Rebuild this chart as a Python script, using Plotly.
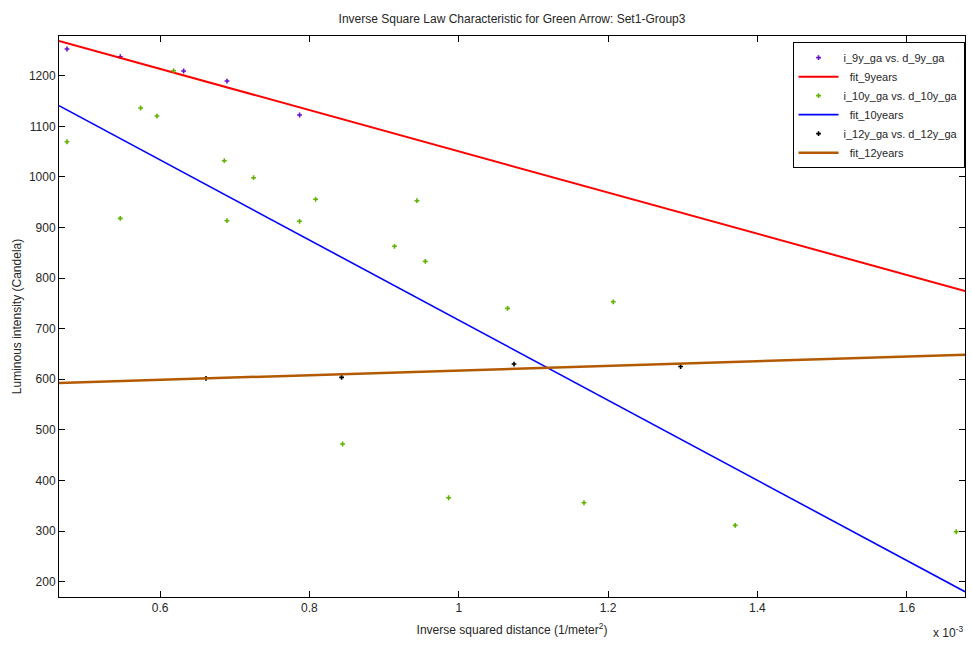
import plotly.graph_objects as go

# x values are in units of 1e-3 (1/meter^2), as shown by the "x 10^-3" axis multiplier
x_9y = [0.4753, 0.5467, 0.6315, 0.6896, 0.7868]
i_9y = [1252.8, 1237.6, 1209.3, 1189.5, 1122.3]

x_10y = [0.4753, 0.5467, 0.5739, 0.5958, 0.6181, 0.6860, 0.6896, 0.7252, 0.7868, 0.8083,
         0.8444, 0.9140, 0.9440, 0.9552, 0.9864, 1.0654, 1.1677, 1.2069, 1.3703, 1.6663]
i_10y = [1069.5, 918.1, 1136.2, 1120.3, 1209.9, 1032.0, 913.4, 998.4, 912.2, 955.7,
         472.0, 862.8, 952.9, 833.1, 365.8, 740.2, 355.9, 753.1, 311.1, 298.6]

x_12y = [0.6615, 0.8431, 1.0740, 1.2971]
i_12y = [601.9, 603.8, 630.1, 625.2]

# fitted lines, read at both ends of the x range
fit_x = [0.4646, 1.678]
fit_9y = [1268.6, 774.4]
fit_10y = [1140.7, 180.0]
fit_12y = [592.6, 648.5]

x_ticks = [0.6, 0.8, 1.0, 1.2, 1.4, 1.6]
x_tick_text = ["0.6", "0.8", "1", "1.2", "1.4", "1.6"]
y_ticks = [200, 300, 400, 500, 600, 700, 800, 900, 1000, 1100, 1200]

FONT = "Liberation Sans Narrow, Arial Narrow, Liberation Sans, Arial"

fig = go.Figure()
fig.add_trace(go.Scatter(x=x_9y, y=i_9y, mode="markers", name="i_9y_ga vs. d_9y_ga",
                         marker=dict(symbol="cross", size=4, color="#6a0dcc")))
fig.add_trace(go.Scatter(x=fit_x, y=fit_9y, mode="lines", name="  fit_9years",
                         line=dict(color="#ff0000", width=2)))
fig.add_trace(go.Scatter(x=x_10y, y=i_10y, mode="markers", name="i_10y_ga vs. d_10y_ga",
                         marker=dict(symbol="cross", size=4, color="#5fb300")))
fig.add_trace(go.Scatter(x=fit_x, y=fit_10y, mode="lines", name="  fit_10years",
                         line=dict(color="#0000ff", width=1.6)))
fig.add_trace(go.Scatter(x=x_12y, y=i_12y, mode="markers", name="i_12y_ga vs. d_12y_ga",
                         marker=dict(symbol="cross", size=4, color="#000000")))
fig.add_trace(go.Scatter(x=fit_x, y=fit_12y, mode="lines", name="  fit_12years",
                         line=dict(color="#b35a00", width=2.5)))

axis_common = dict(showline=True, linecolor="#000000", linewidth=1, mirror="allticks",
                   ticks="inside", ticklen=6, tickcolor="#000000", showgrid=False,
                   zeroline=False, tickfont=dict(family=FONT, size=12, color="#262626"))

fig.update_layout(
    width=972, height=646,
    margin=dict(l=59, r=7, t=36, b=49),
    paper_bgcolor="white", plot_bgcolor="white",
    font=dict(family=FONT, size=12, color="#262626"),
    title=dict(text="Inverse Square Law Characteristic for Green Arrow: Set1-Group3",
               x=(59 + 965) / 2 / 972, xanchor="center", y=1 - 19 / 646, yanchor="middle",
               font=dict(family=FONT, size=12, color="#262626")),
    xaxis=dict(range=[fit_x[0], fit_x[1]], tickvals=x_ticks, ticktext=x_tick_text,
               title=dict(text="Inverse squared distance (1/meter<sup>2</sup>)", standoff=11,
                          font=dict(family=FONT, size=12, color="#262626")),
               **axis_common),
    yaxis=dict(range=[169.6, 1278.5], tickvals=y_ticks,
               title=dict(text="Luminous intensity (Candela)", standoff=4,
                          font=dict(family="Liberation Sans, Arial", size=12, color="#262626")),
               **axis_common),
    legend=dict(x=0.9995, xanchor="right", y=0.989, yanchor="top",
                bgcolor="white", bordercolor="#000000", borderwidth=1,
                font=dict(family="Liberation Sans, Arial", size=11, color="#262626"),
                tracegroupgap=0, itemwidth=40),
    showlegend=True,
)

fig.add_annotation(text="x 10<sup>-3</sup>", xref="paper", yref="paper",
                   x=1.0, xanchor="right", y=-0.045, yanchor="top", showarrow=False,
                   font=dict(family=FONT, size=12, color="#262626"))

fig.write_html("out.html")
